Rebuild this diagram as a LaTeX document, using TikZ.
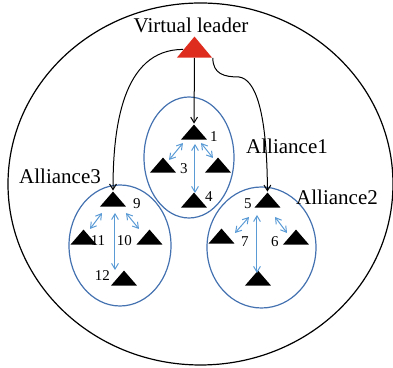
\documentclass[tikz,border=0pt]{standalone}
\usepackage{fontspec}
\setmainfont{Liberation Serif}
\usetikzlibrary{shapes.geometric, arrows, arrows.meta, positioning}

\definecolor{ringblue}{RGB}{68,114,176}
\definecolor{linkblue}{RGB}{91,155,213}
\definecolor{leadred}{RGB}{222,45,30}

\begin{document}
\begin{tikzpicture}[
    x=0.5pt, y=-0.5pt,
    >={Straight Barb[length=2.8pt,width=3.4pt]},
    agent/.style={isosceles triangle, isosceles triangle stretches, shape border rotate=90, draw=none, fill=black, inner sep=0pt, minimum width=13pt, minimum height=7.5pt, anchor=lower side},
    leader/.style={agent, fill=leadred, minimum width=17.5pt, minimum height=10.5pt},
    alliance/.style={ellipse, draw=ringblue, line width=0.6pt, inner sep=0pt},
    txt/.style={font=\fontsize{10.5}{12}\selectfont, inner sep=0pt},
    num/.style={font=\fontsize{7.5}{9}\selectfont, inner sep=0pt},
    link/.style={<->, linkblue, line width=0.5pt},
    lead/.style={->, line width=0.5pt}
]
\useasboundingbox (0,0) rectangle (393,368);

% rings
\node[ellipse, draw, line width=0.6pt, inner sep=0pt, minimum width=192.5pt, minimum height=181pt] (swarm) at (200.5,184) {};
\node[alliance, minimum width=45pt, minimum height=60.5pt] (A1) at (189,157.5) {};
\node[alliance, minimum width=54.5pt, minimum height=60.5pt] (A2) at (261.5,247.5) {};
\node[alliance, minimum width=51pt, minimum height=60.5pt] (A3) at (120,245.5) {};

% agents
\node[leader] (leader) at (194.5,58) {};
\node[agent] (n1) at (194,140) {};
\node[agent] (n2) at (218,173) {};
\node[agent] (n3) at (163,173) {};
\node[agent] (n4) at (194,208) {};
\node[agent] (n5) at (267.5,208) {};
\node[agent] (n6) at (296,245) {};
\node[agent] (n7) at (221.5,244) {};
\node[agent] (n8) at (258,286) {};
\node[agent] (n9) at (113,207) {};
\node[agent] (n10) at (149.5,245) {};
\node[agent] (n11) at (83.5,245) {};
\node[agent] (n12) at (124,286) {};

% labels
\node[txt] (vltext) at (191,25) {Virtual leader};
\node[txt] (A1text) at (287,146) {Alliance1};
\node[txt] (A2text) at (337,197) {Alliance2};
\node[txt] (A3text) at (60,176) {Alliance3};
\node[num] at (214,137) {1};
\node[num] at (184,169) {3};
\node[num] at (209,197) {4};
\node[num] at (248,204) {5};
\node[num] at (275,241.5) {6};
\node[num] at (245,241.5) {7};
\node[num] at (137,204) {9};
\node[num] at (124.5,241) {10};
\node[num] at (98,241) {11};
\node[num] at (102.5,276) {12};

% leader links
\coordinate (kink) at (239,77);
\draw[lead] (leader) -- (n1);
\draw[lead] (leader) to[out=180, in=90] (n9);
\draw[lead] (leader.-25) .. controls (213,74) and (224,77) .. (kink) .. controls (255,79) and (267,110) .. (n5);

% alliance links
\draw[link] ([shift={(-11,3)}]n1.lower side) -- ([shift={(6,-13)}]n3.lower side);
\draw[link] ([shift={(7,3)}]n1.lower side) -- ([shift={(-5,-15)}]n2.lower side);
\draw[link] ([shift={(1,4)}]n1.lower side) -- ([shift={(1,-15)}]n4.lower side);
\draw[link] ([shift={(-18.5,9)}]n5.lower side) -- ([shift={(13.5,-11)}]n7.lower side);
\draw[link] ([shift={(7.5,9)}]n5.lower side) -- ([shift={(-9,-12)}]n6.lower side);
\draw[link] ([shift={(-10.5,7)}]n5.lower side) -- ([shift={(-1,-13)}]n8.lower side);
\draw[link] ([shift={(-11,6)}]n9.lower side) -- ([shift={(6.5,-16)}]n11.lower side);
\draw[link] ([shift={(13,6)}]n9.lower side) -- ([shift={(-10.5,-16)}]n10.lower side);
\draw[link] ([shift={(2,6)}]n9.lower side) -- ([shift={(-9,-16)}]n12.lower side);

\end{tikzpicture}
\end{document}
